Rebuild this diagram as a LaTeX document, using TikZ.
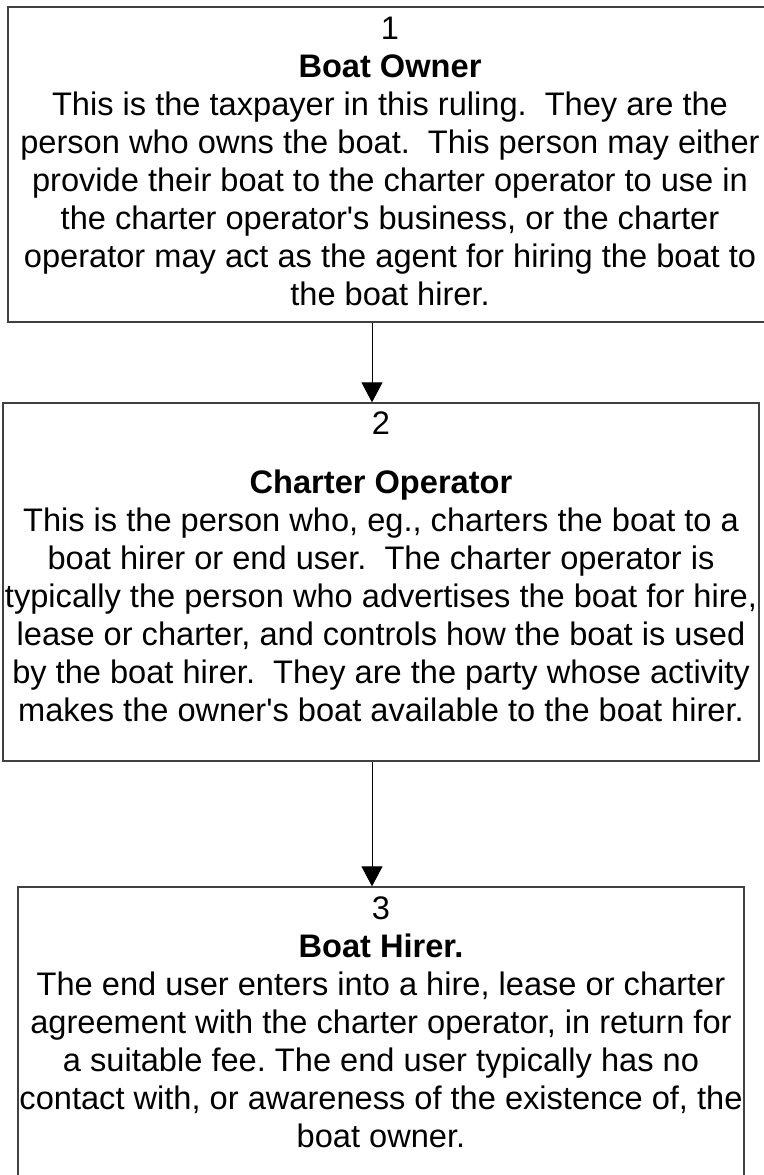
\documentclass[tikz,border=0pt]{standalone}
\usepackage{fontspec}
\setmainfont{Liberation Sans}
\usetikzlibrary{arrows.meta}

\tikzset{
    box/.style={draw=black!75, line width=1.3pt, rectangle, inner sep=0pt},
    boxtext/.style={align=center, inner sep=0pt, anchor=north,
        font=\fontsize{32.6}{38}\selectfont\frenchspacing},
    flow/.style={line width=1pt, -{Triangle[width=21pt,length=20pt]}}
}

\begin{document}
\begin{tikzpicture}[x=1pt, y=-1pt]
    \useasboundingbox (0,0) rectangle (763,1175);

    \node[box, minimum width=764pt, minimum height=315pt] (owner) at (390,164.5) {};
    \node[box, minimum width=756pt, minimum height=358pt] (operator) at (381,582) {};
    \node[box, minimum width=726pt, minimum height=320pt] (hirer) at (381,1047) {};

    \node[boxtext] (ownertext) at (390,17) {1\\
        \textbf{Boat Owner}\\
        This is the taxpayer in this ruling.\ \ They are the\\
        person who owns the boat.\ \ This person may either\\
        provide their boat to the charter operator to use in\\
        the charter operator\textquotesingle s business, or the charter\\
        operator may act as the agent for hiring the boat to\\
        the boat hirer.};
    \node[boxtext] (operatortext) at (381,412) {2\\[21pt]
        \textbf{Charter Operator}\\
        This is the person who, eg., charters the boat to a\\
        boat hirer or end user.\ \ The charter operator is\\
        typically the person who advertises the boat for hire,\\
        lease or charter, and controls how the boat is used\\
        by the boat hirer.\ \ They are the party whose activity\\
        makes the owner\textquotesingle s boat available to the boat hirer.};
    \node[boxtext] (hirertext) at (381,897) {3\\
        \textbf{Boat Hirer.}\\
        The end user enters into a hire, lease or charter\\
        agreement with the charter operator, in return for\\
        a suitable fee. The end user typically has no\\
        contact with, or awareness of the existence of, the\\
        boat owner.};

    \draw[flow] (372,0 |- owner.south) -- (372,0 |- operator.north);
    \draw[flow] (372,0 |- operator.south) -- (372,0 |- hirer.north);
\end{tikzpicture}
\end{document}
